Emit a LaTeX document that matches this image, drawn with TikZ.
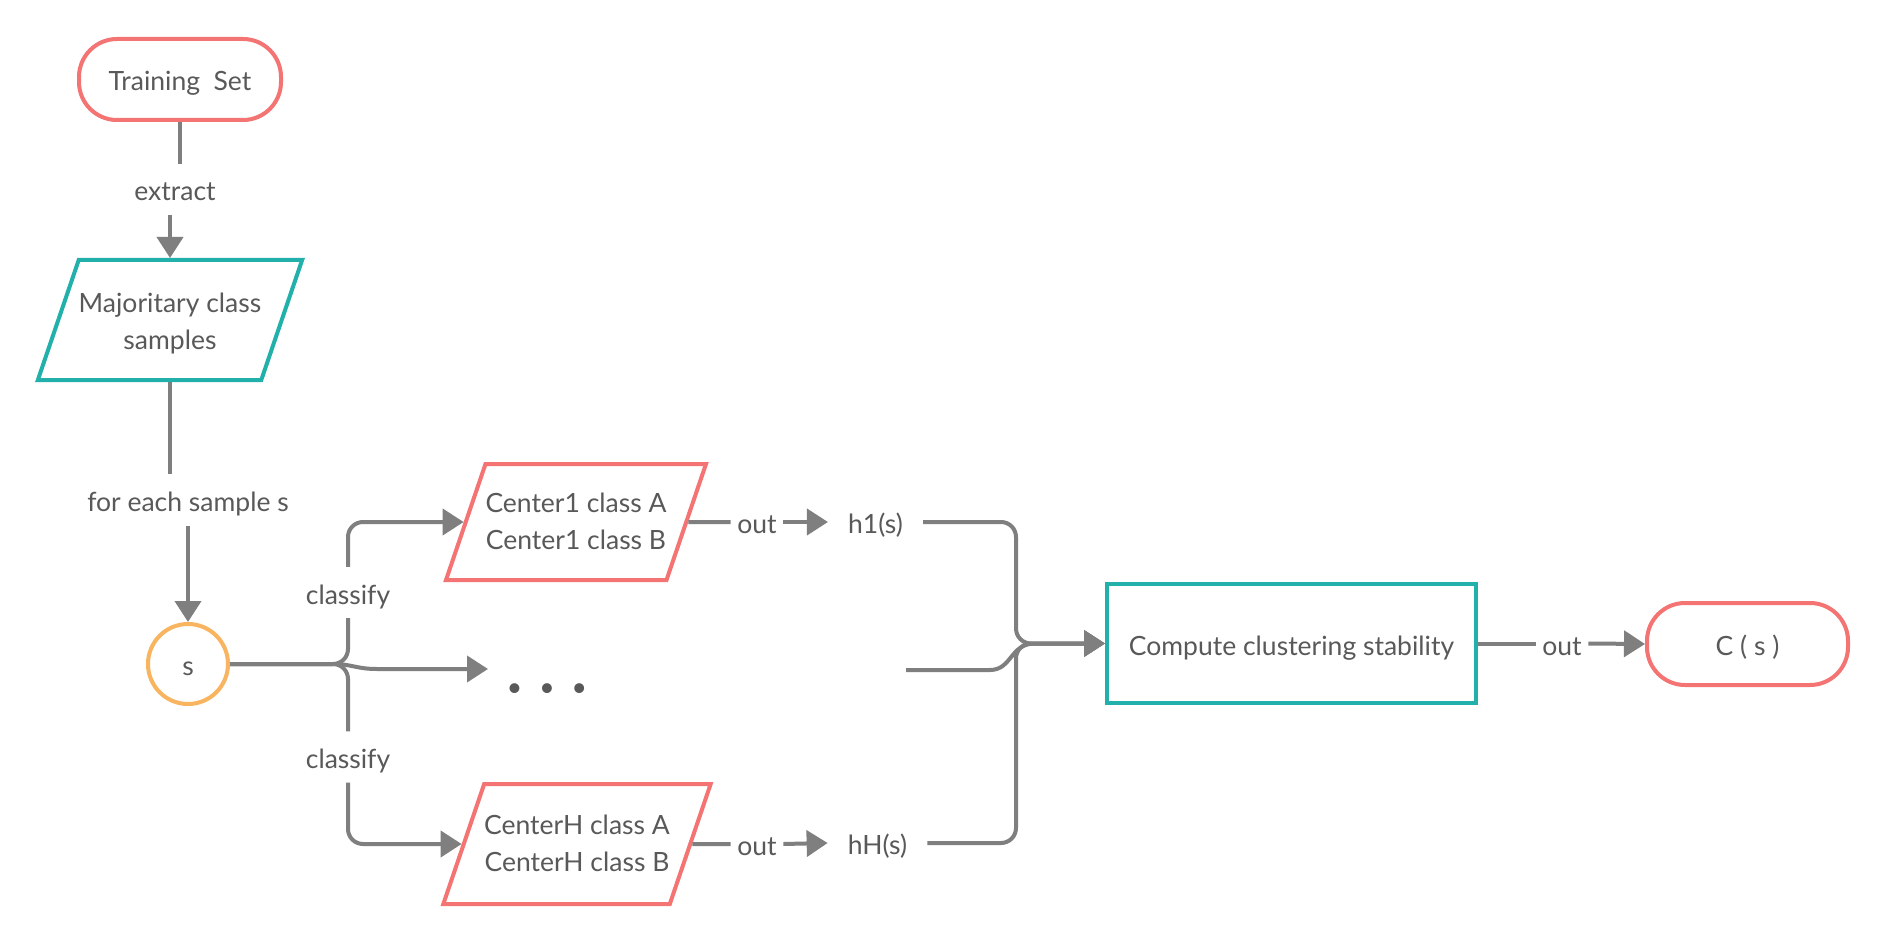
\documentclass[tikz,border=0pt]{standalone}
\usepackage{fontspec}
\setmainfont{Lato}
\usetikzlibrary{shapes.geometric,arrows.meta}

\definecolor{linegray}{HTML}{7F7F7F}
\definecolor{txtgray}{HTML}{595959}
\definecolor{pillred}{HTML}{F47373}
\definecolor{boxteal}{HTML}{22B0AA}
\definecolor{ringorange}{HTML}{F8B45E}

\newcommand{\labelfont}{\fontsize{26.5}{37}\selectfont}

\tikzset{
  base/.style={font=\labelfont, text=txtgray, line width=4pt},
  oneline/.style={text height=23pt, text depth=0pt},
  pill/.style={base, oneline, draw=pillred, rounded corners=38pt, inner sep=0pt},
  para/.style={base, shape=trapezium, trapezium stretches body=true,
    trapezium left angle=71.2, trapezium right angle=108.8, align=center,
    inner xsep=0pt, inner ysep=20pt},
  procbox/.style={base, oneline, draw=boxteal, inner sep=0pt},
  ring/.style={base, oneline, circle, draw=ringorange, minimum size=80pt, inner sep=0pt},
  lbl/.style={font=\labelfont, oneline, text=txtgray, inner xsep=6.5pt, inner ysep=0pt, minimum height=51pt},
  hval/.style={font=\labelfont, oneline, text=txtgray, inner xsep=20pt, inner ysep=0pt, minimum height=40pt},
  conn/.style={draw=linegray, line width=4pt},
  tip/.style={conn, -{Triangle[length=21pt,width=26pt]}}
}

\begin{document}
\begin{tikzpicture}[x=1pt,y=-1pt]
  \fill[white] (0,0) rectangle (1888,944);
  \useasboundingbox (0,0) rectangle (1888,944);

  % nodes
  \node[pill, minimum width=202pt, minimum height=81pt] (ts) at (180,79.5) {Training\ \ Set};
  \node[para, draw=boxteal, minimum width=262pt, text height=69pt, text depth=11pt] (maj) at (170,320) {Majoritary class\\samples};
  \node[ring] (s) at (188,664) {s};
  \node[para, draw=pillred, minimum width=258pt, text height=65pt, text depth=11pt] (c1) at (576,522) {Center1 class A\\Center1 class B};
  \node[para, draw=pillred, minimum width=261pt, text height=67pt, text depth=13pt] (c2) at (577,844) {CenterH class A\\CenterH class B};
  \node[procbox, minimum width=369pt, minimum height=119pt] (comp) at (1291.5,643.5) {Compute clustering stability};
  \node[pill, minimum width=201pt, minimum height=82pt] (cs) at (1747.5,644) {C\ (\ s\ )};

  % labels on connectors
  \node[lbl] (ex) at (175,189.5) {extract};
  \node[lbl] (fe) at (188,500) {for each sample s};
  \node[lbl] (cl1) at (348,592.5) {classify};
  \node[lbl] (cl2) at (348,757) {classify};
  \node[lbl] (o1) at (757,522) {out};
  \node[lbl] (o2) at (757,844) {out};
  \node[lbl] (o3) at (1562,643.5) {out};
  \node[hval] (h1) at (875.5,522) {h1(s)};
  \node[hval] (hH) at (877.5,843) {hH(s)};
  \node[font=\labelfont, text=txtgray] (dots) at (547,690) {\textbullet\hspace{17pt}\textbullet\hspace{17pt}\textbullet};

  \coordinate (dotsin) at (488,669);
  \coordinate (merge) at (1016,643.5);
  \coordinate (mfree) at (906,670);

  % vertical chain
  \draw[conn] (ts.south) -- (ts.south |- ex.north);
  \draw[tip] (maj.north |- ex.south) -- (maj.north);
  \draw[conn] (maj.south) -- (maj.south |- fe.north);
  \draw[tip] (s.north |- fe.south) -- (s.north);

  % fork out of s
  \draw[conn, rounded corners=15pt] (s.east) -| (cl1.south);
  \draw[tip, rounded corners=15pt] (cl1.north) |- (c1.west);
  \draw[conn, rounded corners=15pt] (s.east) -| (cl2.north);
  \draw[tip, rounded corners=15pt] (cl2.south) |- (c2.west);
  \draw[tip] (s.east) -- (333,664) .. controls (352,664) and (356,669) .. (377,669) -- (dotsin);

  % outputs of the classifiers
  \draw[conn] (c1.east) -- (o1.west);
  \draw[tip] (o1.east) -- (h1.west);
  \draw[conn] (c2.east) -- (o2.west);
  \draw[tip] (o2.east) -- (hH.west);

  % merge into the stability step
  \draw[tip, rounded corners=15pt] (h1.east) -| (merge) -- (comp.west);
  \draw[tip, rounded corners=15pt] (hH.east) -| (merge) -- (comp.west);
  \draw[tip] (mfree) -- (990,670) .. controls (1012,670) and (1010,643.5) .. (1035,643.5) -- (comp.west);

  % final output
  \draw[conn] (comp.east) -- (o3.west);
  \draw[tip] (o3.east) -- (cs.west);
\end{tikzpicture}
\end{document}
